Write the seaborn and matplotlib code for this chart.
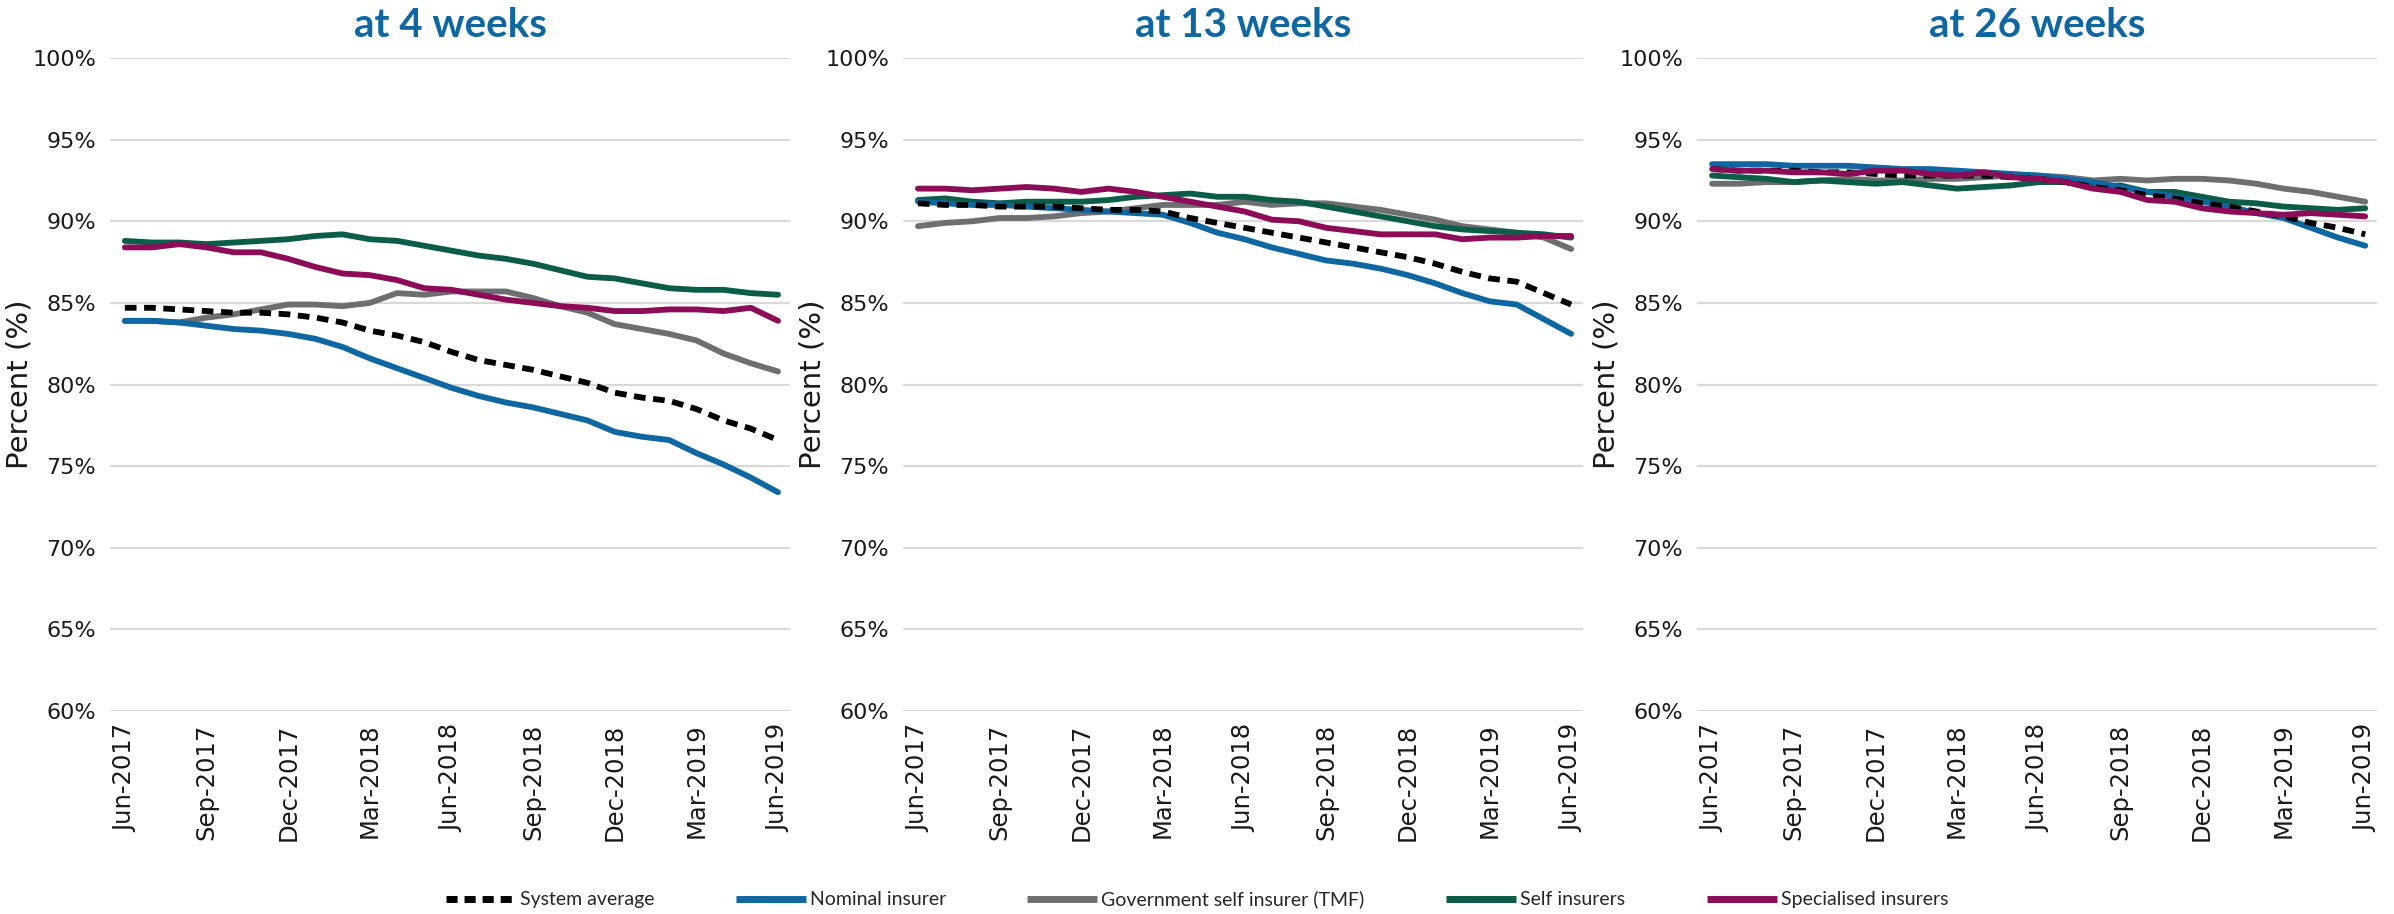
import pandas as pd
import numpy as np
import matplotlib.pyplot as plt
import seaborn as sns

months = ["Jun-2017", "Jul-2017", "Aug-2017", "Sep-2017", "Oct-2017", "Nov-2017", "Dec-2017",
          "Jan-2018", "Feb-2018", "Mar-2018", "Apr-2018", "May-2018", "Jun-2018", "Jul-2018",
          "Aug-2018", "Sep-2018", "Oct-2018", "Nov-2018", "Dec-2018", "Jan-2019", "Feb-2019",
          "Mar-2019", "Apr-2019", "May-2019", "Jun-2019"]

series_names = ["System average", "Nominal insurer", "Government self insurer (TMF)",
                "Self insurers", "Specialised insurers"]

# at 4 weeks
w4_system = [84.7, 84.7, 84.6, 84.5, 84.4, 84.4, 84.3, 84.1, 83.8, 83.3, 83.0, 82.6, 82.0,
             81.5, 81.2, 80.9, 80.5, 80.1, 79.5, 79.2, 79.0, 78.5, 77.8, 77.3, 76.6]
w4_nominal = [83.9, 83.9, 83.8, 83.6, 83.4, 83.3, 83.1, 82.8, 82.3, 81.6, 81.0, 80.4, 79.8,
              79.3, 78.9, 78.6, 78.2, 77.8, 77.1, 76.8, 76.6, 75.8, 75.1, 74.3, 73.4]
w4_tmf = [83.9, 83.9, 83.8, 84.1, 84.3, 84.6, 84.9, 84.9, 84.8, 85.0, 85.6, 85.5, 85.7,
          85.7, 85.7, 85.3, 84.8, 84.4, 83.7, 83.4, 83.1, 82.7, 81.9, 81.3, 80.8]
w4_self = [88.8, 88.7, 88.7, 88.6, 88.7, 88.8, 88.9, 89.1, 89.2, 88.9, 88.8, 88.5, 88.2,
           87.9, 87.7, 87.4, 87.0, 86.6, 86.5, 86.2, 85.9, 85.8, 85.8, 85.6, 85.5]
w4_special = [88.4, 88.4, 88.6, 88.4, 88.1, 88.1, 87.7, 87.2, 86.8, 86.7, 86.4, 85.9, 85.8,
              85.5, 85.2, 85.0, 84.8, 84.7, 84.5, 84.5, 84.6, 84.6, 84.5, 84.7, 83.9]

# at 13 weeks
w13_system = [91.1, 91.0, 91.0, 90.9, 90.9, 90.9, 90.8, 90.7, 90.7, 90.6, 90.2, 89.9, 89.6,
              89.3, 89.0, 88.7, 88.4, 88.1, 87.8, 87.4, 86.9, 86.5, 86.3, 85.6, 84.9]
w13_nominal = [91.2, 91.1, 91.0, 91.0, 90.9, 90.8, 90.7, 90.6, 90.5, 90.4, 89.9, 89.3, 88.9,
               88.4, 88.0, 87.6, 87.4, 87.1, 86.7, 86.2, 85.6, 85.1, 84.9, 84.0, 83.1]
w13_tmf = [89.7, 89.9, 90.0, 90.2, 90.2, 90.3, 90.5, 90.6, 90.8, 91.0, 91.0, 91.0, 91.2,
           91.0, 91.1, 91.1, 90.9, 90.7, 90.4, 90.1, 89.7, 89.5, 89.3, 89.0, 88.3]
w13_self = [91.3, 91.4, 91.2, 91.1, 91.2, 91.2, 91.2, 91.3, 91.5, 91.6, 91.7, 91.5, 91.5,
            91.3, 91.2, 90.9, 90.6, 90.3, 90.0, 89.7, 89.5, 89.4, 89.3, 89.2, 89.0]
w13_special = [92.0, 92.0, 91.9, 92.0, 92.1, 92.0, 91.8, 92.0, 91.8, 91.5, 91.2, 90.9, 90.6,
               90.1, 90.0, 89.6, 89.4, 89.2, 89.2, 89.2, 88.9, 89.0, 89.0, 89.1, 89.1]

# at 26 weeks
w26_system = [93.2, 93.1, 93.1, 93.1, 93.0, 93.0, 92.9, 92.8, 92.8, 92.8, 92.8, 92.7, 92.6,
              92.4, 92.1, 91.9, 91.6, 91.4, 91.1, 90.9, 90.6, 90.3, 89.9, 89.6, 89.2]
w26_nominal = [93.5, 93.5, 93.5, 93.4, 93.4, 93.4, 93.3, 93.2, 93.2, 93.1, 93.0, 92.9, 92.8,
               92.6, 92.4, 92.1, 91.8, 91.5, 91.2, 90.9, 90.5, 90.2, 89.6, 89.0, 88.5]
w26_tmf = [92.3, 92.3, 92.4, 92.4, 92.5, 92.6, 92.5, 92.5, 92.6, 92.6, 92.7, 92.8, 92.8,
           92.7, 92.5, 92.6, 92.5, 92.6, 92.6, 92.5, 92.3, 92.0, 91.8, 91.5, 91.2]
w26_self = [92.8, 92.7, 92.6, 92.4, 92.5, 92.4, 92.3, 92.4, 92.2, 92.0, 92.1, 92.2, 92.4,
            92.4, 92.1, 92.2, 91.8, 91.8, 91.5, 91.2, 91.1, 90.9, 90.8, 90.7, 90.8]
w26_special = [93.2, 93.1, 93.1, 93.0, 93.0, 92.9, 93.1, 93.1, 92.9, 92.8, 93.0, 92.7, 92.6,
               92.4, 92.0, 91.8, 91.3, 91.2, 90.8, 90.6, 90.5, 90.4, 90.5, 90.4, 90.3]

panel_titles = ["at 4 weeks", "at 13 weeks", "at 26 weeks"]
panel_data = [
    [w4_system, w4_nominal, w4_tmf, w4_self, w4_special],
    [w13_system, w13_nominal, w13_tmf, w13_self, w13_special],
    [w26_system, w26_nominal, w26_tmf, w26_self, w26_special],
]

palette = {
    "System average": "#000000",
    "Nominal insurer": "#0F67A2",
    "Government self insurer (TMF)": "#6D6E71",
    "Self insurers": "#0B5C48",
    "Specialised insurers": "#8C0C57",
}
dash_styles = {
    "System average": (2.0, 1.3),
    "Nominal insurer": "",
    "Government self insurer (TMF)": "",
    "Self insurers": "",
    "Specialised insurers": "",
}
draw_order = ["Government self insurer (TMF)", "Self insurers", "Nominal insurer",
              "System average", "Specialised insurers"]

sns.set_theme(style="white")
plt.rcParams["font.family"] = ["Lato", "DejaVu Sans"]

fig = plt.figure(figsize=(23.94, 9.14), dpi=100)
lefts = [0.0459, 0.3772, 0.7089]
axes = [fig.add_axes([l, 0.2221, 0.2842, 0.7144]) for l in lefts]

for ax, title, values in zip(axes, panel_titles, panel_data):
    rows = []
    for name, vals in zip(series_names, values):
        for i, v in enumerate(vals):
            rows.append([name, i, v])
    df = pd.DataFrame(rows, columns=["series", "idx", "pct"])

    sns.lineplot(data=df, x="idx", y="pct", hue="series", style="series",
                 hue_order=draw_order, style_order=draw_order,
                 palette=palette, dashes=dash_styles, linewidth=4.2,
                 legend=False, ax=ax, sort=False)

    ax.set_ylim(60, 100)
    ax.set_xlim(-0.55, 24.45)
    ax.set_yticks(np.arange(60, 101, 5))
    ax.set_yticklabels([f"{t}%" for t in range(60, 101, 5)], fontsize=16,
                       color="#1a1a1a", family="DejaVu Sans")
    ax.set_xticks(range(0, 25, 3))
    ax.set_xticklabels(months[::3], rotation=90, fontsize=17.5, color="#1a1a1a",
                       family="DejaVu Sans")
    ax.tick_params(axis="both", length=0)
    ax.tick_params(axis="x", pad=9)
    ax.tick_params(axis="y", pad=10)
    ax.grid(axis="y", color="#D9D9D9", linewidth=1.6)
    ax.set_axisbelow(True)
    for s in ax.spines.values():
        s.set_visible(False)
    ax.set_xlabel("")
    ax.set_ylabel("Percent (%)", fontsize=21, color="#1a1a1a", family="DejaVu Sans")
    ax.yaxis.set_label_coords(-0.113, 0.5)
    ax.set_title(title, fontsize=29, fontweight="bold", color="#0F67A2", pad=15)

handles = []
for name in series_names:
    ls = (0, (1.6, 1.0)) if name == "System average" else "-"
    h, = axes[0].plot([], [], color=palette[name], linewidth=5, linestyle=ls,
                      solid_capstyle="butt")
    handles.append(h)
fig.legend(handles, series_names, loc="center", bbox_to_anchor=(0.5, 0.016), ncol=5,
           frameon=False, fontsize=14, handlelength=3.6, handletextpad=0.2,
           columnspacing=4.2)

fig.savefig("out.png", dpi=100)
